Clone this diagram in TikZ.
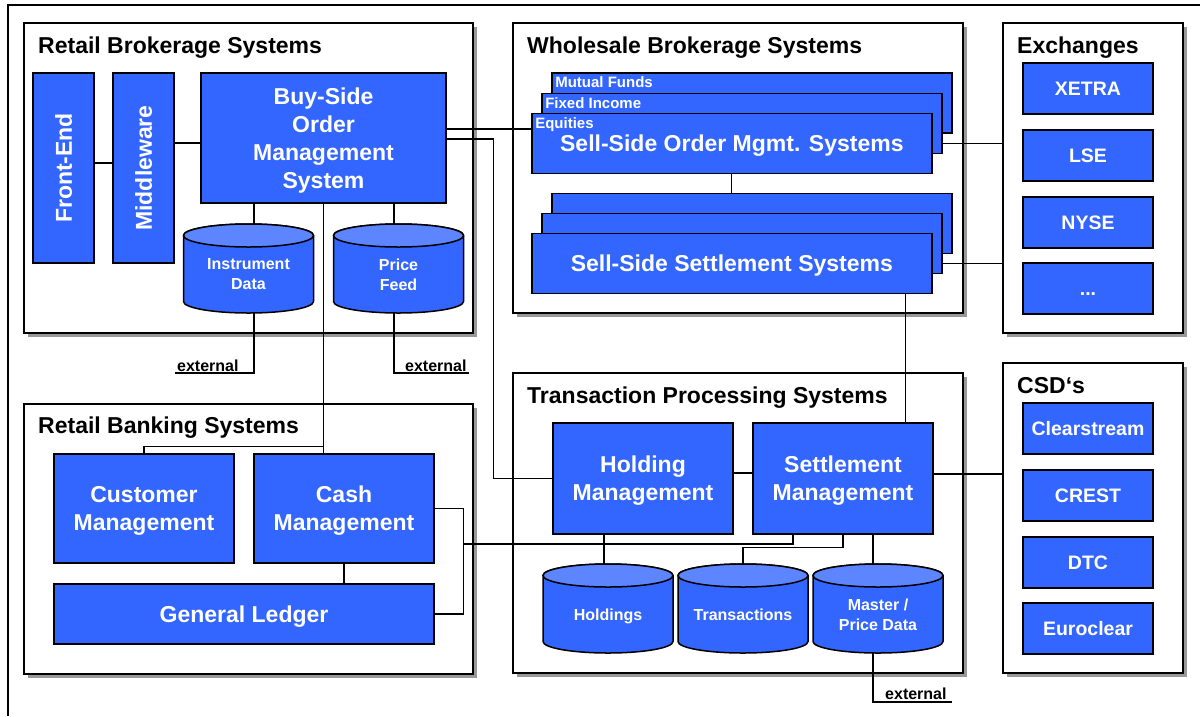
\documentclass[tikz,border=0pt]{standalone}
\usepackage{fontspec}
\setmainfont{Liberation Sans}
\usetikzlibrary{calc, shadows}

\definecolor{boxblue}{RGB}{51,102,255}
\definecolor{drumlight}{RGB}{92,133,255}
\definecolor{shadowgray}{RGB}{153,153,153}

\tikzset{
  group/.style={draw, line width=1.6pt, fill=white, inner sep=0pt,
    drop shadow={shadow xshift=4pt, shadow yshift=-4pt, fill=shadowgray, opacity=1}},
  grouptitle/.style={anchor=base west, inner sep=0pt, font=\bfseries\fontsize{23}{28}\selectfont},
  sys/.style={draw, line width=1.5pt, fill=boxblue, text=white, inner sep=0pt, align=center,
    text depth=0pt, font=\bfseries\fontsize{23}{28}\selectfont},
  venue/.style={sys, minimum width=130pt, minimum height=51pt, text height=14pt,
    font=\bfseries\fontsize{19.5}{23}\selectfont},
  tag/.style={anchor=base west, inner sep=0pt, text=white, font=\bfseries\fontsize{15}{18}\selectfont},
  drumnode/.style={inner sep=0pt, minimum width=130pt, minimum height=77.5pt, text=white,
    align=center, text depth=0pt, font=\bfseries\fontsize{16}{20}\selectfont},
  drumside/.style={draw=black, line width=1.5pt, fill=boxblue},
  drumtop/.style={draw=black, line width=1.5pt, fill=drumlight},
  link/.style={line width=1.2pt},
  ext/.style={anchor=base west, inner sep=0pt, font=\bfseries\fontsize{16}{20}\selectfont},
}

% database drum: name, x, y of body centre, text
\newcommand{\dbdrum}[4]{%
  \filldraw[drumside] (#2-65,#3-38.75) -- (#2-65,#3+27.25)
    arc[start angle=180, end angle=360, x radius=65pt, y radius=11.5pt]
    -- (#2+65,#3-38.75)
    arc[start angle=0, end angle=180, x radius=65pt, y radius=11.5pt] -- cycle;
  \filldraw[drumtop] (#2,#3-38.75) ellipse[x radius=65pt, y radius=11.5pt];
  \node[drumnode] (#1) at (#2,#3) {#4};
}

\begin{document}
\begin{tikzpicture}[x=1pt, y=-1pt]
  \useasboundingbox (0,0) rectangle (1200,716);

  % outer frame
  \draw[line width=1.6pt] (8,716) |- (1200,5);

  % groups
  \node[group, minimum width=449pt, minimum height=310pt] (rbs) at (248.5,178) {};
  \node[group, minimum width=450pt, minimum height=290pt] (wbs) at (738,168) {};
  \node[group, minimum width=180pt, minimum height=310pt] (exch) at (1093,178) {};
  \node[group, minimum width=449pt, minimum height=270pt] (rbk) at (248.5,539) {};
  \node[group, minimum width=450pt, minimum height=300pt] (tps) at (738,523) {};
  \node[group, minimum width=180pt, minimum height=310pt] (csd) at (1093,518) {};

  \node[grouptitle] (rbsT) at (38,53) {Retail Brokerage Systems};
  \node[grouptitle] (wbsT) at (527,53) {Wholesale Brokerage Systems};
  \node[grouptitle] (exchT) at (1017,53) {Exchanges};
  \node[grouptitle] (rbkT) at (38,433) {Retail Banking Systems};
  \node[grouptitle] (tpsT) at (527,403) {Transaction Processing Systems};
  \node[grouptitle] (csdT) at (1017,393) {CSD‘s};

  % retail brokerage
  \node[sys, rotate=90, minimum width=190pt, minimum height=61pt] (fe) at (63.5,168) {Front-End};
  \node[sys, rotate=90, minimum width=190pt, minimum height=61pt] (mw) at (143.5,168) {Middleware};
  \node[sys, minimum width=245pt, minimum height=130pt] (bsoms) at (323.5,138) {Buy-Side\\Order\\Management\\System};
  \dbdrum{idb}{248.5}{274.25}{Instrument\\Data}
  \dbdrum{pdb}{398.5}{274.25}{Price\\Feed}
  \node[ext] (ext1) at (177,371) {external};
  \node[ext] (ext2) at (405,371) {external};

  % wholesale brokerage
  \node[sys, minimum width=400pt, minimum height=60pt] (ordmf) at (751.85,103) {};
  \node[tag] (mflbl) at ([xshift=4pt,yshift=-15.5pt]ordmf.north west) {Mutual Funds};
  \node[sys, minimum width=400pt, minimum height=60pt] (ordfi) at (741.85,123.3) {};
  \node[tag] (filbl) at ([xshift=4pt,yshift=-15.5pt]ordfi.north west) {Fixed Income};
  \node[sys, minimum width=400pt, minimum height=60pt, text height=16.5pt] (ordeq) at (731.85,143.3) {Sell-Side Order Mgmt. Systems};
  \node[tag] (eqlbl) at ([xshift=4pt,yshift=-15.5pt]ordeq.north west) {Equities};

  \node[sys, minimum width=400pt, minimum height=60pt] (setbk) at (751.85,223.5) {};
  \node[sys, minimum width=400pt, minimum height=60pt] (setmd) at (741.85,243.5) {};
  \node[sys, minimum width=400pt, minimum height=60pt, text height=16.5pt] (setfr) at (731.85,263.5) {Sell-Side Settlement Systems};

  % exchanges and CSDs
  \node[venue] (xetra) at (1088,88.5) {XETRA};
  \node[venue] (lse) at (1088,155.5) {LSE};
  \node[venue] (nyse) at (1088,222.5) {NYSE};
  \node[venue] (more) at (1088,288.5) {...};
  \node[venue] (clear) at (1088,428.5) {Clearstream};
  \node[venue] (crest) at (1088,495.5) {CREST};
  \node[venue] (dtc) at (1088,562.5) {DTC};
  \node[venue] (euro) at (1088,628.5) {Euroclear};

  % retail banking
  \node[sys, minimum width=180pt, minimum height=109pt] (cust) at (144,508.5) {Customer\\Management};
  \node[sys, minimum width=180pt, minimum height=109pt] (cash) at (344,508.5) {Cash\\Management};
  \node[sys, minimum width=380pt, minimum height=60pt, text height=16.5pt] (gl) at (244,614) {General Ledger};

  % transaction processing
  \node[sys, minimum width=180pt, minimum height=111pt] (hold) at (643,478.5) {Holding\\Management};
  \node[sys, minimum width=180pt, minimum height=111pt] (setm) at (843,478.5) {Settlement\\Management};
  \dbdrum{hdb}{608}{614.25}{Holdings}
  \dbdrum{trdb}{743}{614.25}{Transactions}
  \dbdrum{mdb}{878}{614.25}{Master /\\Price Data}
  \node[ext] (ext3) at (885,699) {external};

  % links inside retail brokerage
  \draw[link] ([yshift=5pt]fe.south) -- ([yshift=5pt]fe.south -| mw.north);
  \draw[link] ([yshift=-5pt]bsoms.west) -- ([yshift=-5pt]bsoms.west -| mw.south);
  \draw[link] ([xshift=5.5pt]idb.north |- bsoms.south) -- ([xshift=5.5pt,yshift=11.5pt]idb.north);
  \draw[link] ([xshift=-4.5pt]pdb.north |- bsoms.south) -- ([xshift=-4.5pt,yshift=11.5pt]pdb.north);
  \draw[link] ([xshift=5.5pt]idb.south) |- ([xshift=-2pt,yshift=-2pt]ext1.base west);
  \draw[link] ([xshift=-4.5pt]pdb.south) |- ([xshift=2pt,yshift=-2pt]ext2.base east);

  % buy-side to the other groups
  \draw[link] ([yshift=9pt]bsoms.east) -- ([yshift=9pt]bsoms.east -| ordeq.west);
  \draw[link] ([yshift=-1pt]bsoms.east) -| ([xshift=-59pt]hold.west) -- (hold.west);
  \coordinate (bsj) at ($(bsoms.south |- cash.north)+(0,-7)$);
  \draw[link] (bsoms.south) -- (bsoms.south |- cash.north);
  \draw[link] (bsj) -| (cust.north);

  % wholesale links
  \draw[link] (ordeq.south) -- (ordeq.south |- setbk.north);
  \draw[link] (ordeq.east -| ordfi.east) -- (ordeq.east -| exch.west);
  \draw[link] (setfr.east -| setmd.east) -- (setfr.east -| exch.west);
  \draw[link] ([xshift=174pt]setfr.south) -- ([xshift=174pt]setfr.south |- setm.north);

  % transaction processing links
  \draw[link] ([yshift=5.5pt]hold.east) -- ([yshift=5.5pt]hold.east -| setm.west);
  \draw[link] ([yshift=4.5pt]setm.east) -- ([yshift=4.5pt]setm.east -| csd.west);
  \draw[link] ([xshift=-4pt]hdb.north |- hold.south) -- ([xshift=-4pt,yshift=11.5pt]hdb.north);
  \draw[link] (setm.south) |- ([yshift=27.5pt]trdb.north) -- ([yshift=11.5pt]trdb.north);
  \draw[link] ([xshift=-5pt]mdb.north |- setm.south) -- ([xshift=-5pt,yshift=11.5pt]mdb.north);
  \draw[link] ([xshift=-5pt]mdb.south) |- ([xshift=5pt,yshift=-3pt]ext3.base east);

  % retail banking links
  \draw[link] (cash.south) -- (cash.south |- gl.north);
  \draw[link] (cash.east) -- ++(29,0) |- (gl.east);
  \coordinate (bkj) at ($(cash.east)+(29,35.5)$);
  \draw[link] (bkj) -| ([xshift=-50pt]setm.south);

\end{tikzpicture}
\end{document}
